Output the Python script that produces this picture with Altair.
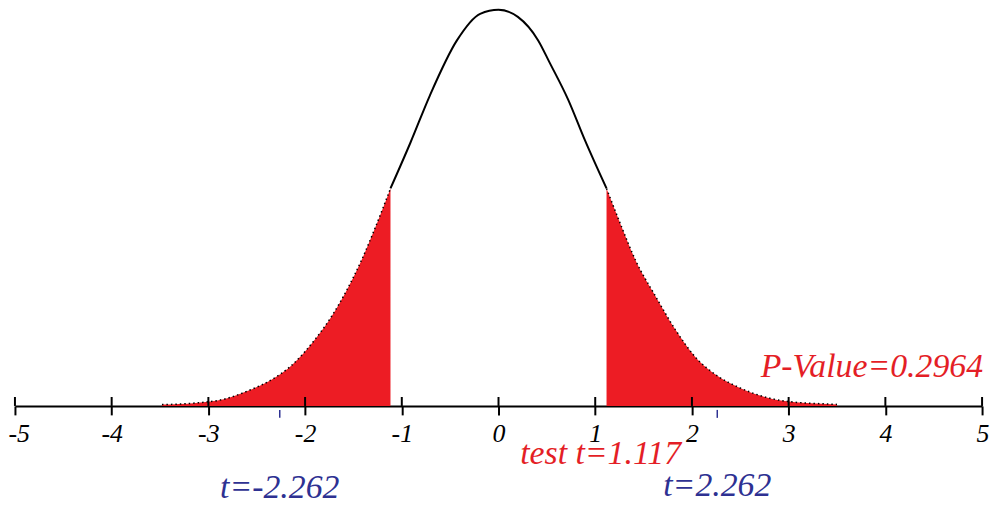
import altair as alt
import pandas as pd

# t-distribution curve, values
t_vals = [-3.48, -3.13, -2.83, -2.59, -2.31, -2.14, -1.90, -1.73, -1.56, -1.42, -1.29,
          -1.117, -0.91, -0.71, -0.43, -0.19, 0.0, 0.20, 0.41, 0.53, 0.72, 0.89, 1.117,
          1.27, 1.42, 1.62, 1.83, 2.03, 2.27, 2.48, 2.72, 2.96, 3.40, 3.5]
density = [0.0013, 0.0029, 0.0068, 0.0148, 0.0278, 0.0397, 0.0648, 0.0871, 0.115, 0.142, 0.171,
           0.213, 0.258, 0.304, 0.358, 0.384, 0.388, 0.381, 0.358, 0.336, 0.300, 0.261, 0.213,
           0.176, 0.142, 0.108, 0.0745, 0.0484, 0.029, 0.0184, 0.0097, 0.0048, 0.0019, 0.0015]

test_t = 1.117
crit_t = 2.262
p_value = 0.2964
tick_values = [-5, -4, -3, -2, -1, 0, 1, 2, 3, 4, 5]

RED = "#ED1C24"
RED_TEXT = "#E41E26"
BLUE = "#2E3192"
FONT = "Liberation Serif"

df = pd.DataFrame({"t": t_vals, "d": density})
left = df[df["t"] <= -test_t]
right = df[df["t"] >= test_t]
center = df[(df["t"] >= -test_t) & (df["t"] <= test_t)]
ticks_df = pd.DataFrame({"t": tick_values})
crit_df = pd.DataFrame({"t": [-crit_t, crit_t]})

xscale = alt.Scale(domain=[-5, 5], nice=False, zero=False)
yscale = alt.Scale(domain=[0, 0.388], nice=False, zero=True)

xaxis = alt.Axis(values=tick_values, labelExpr="'' + datum.value", labelFont=FONT,
                 labelFontStyle="italic", labelFontSize=26, labelColor="black",
                 tickSize=9, tickWidth=2, tickColor="black", domainColor="black",
                 domainWidth=2, labelPadding=27, labelBaseline="alphabetic",
                 grid=False, title=None, labelFlush=True, labelFlushOffset=7,
                 labelOverlap=False)

area_left = alt.Chart(left).mark_area(color=RED, interpolate="monotone", opacity=1).encode(
    x=alt.X("t:Q", scale=xscale, axis=xaxis),
    y=alt.Y("d:Q", scale=yscale, axis=None, stack=None),
)
area_right = alt.Chart(right).mark_area(color=RED, interpolate="monotone", opacity=1).encode(
    x="t:Q", y=alt.Y("d:Q", stack=None))

line_left = alt.Chart(left).mark_line(color="black", strokeWidth=1.5, strokeDash=[1.5, 3],
                                      interpolate="monotone").encode(x="t:Q", y="d:Q")
line_right = alt.Chart(right).mark_line(color="black", strokeWidth=1.5, strokeDash=[1.5, 3],
                                        interpolate="monotone").encode(x="t:Q", y="d:Q")

center_line = alt.Chart(center).mark_line(color="black", strokeWidth=2,
                                          interpolate="monotone").encode(
    x="t:Q", y="d:Q")

up_ticks = alt.Chart(ticks_df).mark_rule(color="black", strokeWidth=2).encode(
    x="t:Q", y=alt.value(390), y2=alt.value(399))

crit_ticks = alt.Chart(crit_df).mark_rule(color=BLUE, strokeWidth=1.5).encode(
    x="t:Q", y=alt.value(403), y2=alt.value(411))

txt_common = dict(font=FONT, fontStyle="italic", fontSize=34, baseline="alphabetic")

t_left = alt.Chart().mark_text(color=BLUE, align="center", **txt_common).encode(
    x=alt.datum(-crit_t), y=alt.value(492), text=alt.value(f"t=-{crit_t}"))
t_right = alt.Chart().mark_text(color=BLUE, align="center", **txt_common).encode(
    x=alt.datum(crit_t), y=alt.value(490), text=alt.value(f"t={crit_t}"))
t_test = alt.Chart().mark_text(color=RED_TEXT, align="center", dx=-6, **txt_common).encode(
    x=alt.datum(test_t), y=alt.value(457), text=alt.value(f"test t={test_t}"))
p_txt = alt.Chart().mark_text(color=RED_TEXT, align="right", dx=1, **txt_common).encode(
    x=alt.datum(5), y=alt.value(370), text=alt.value(f"P-Value={p_value}"))

chart = alt.layer(area_left, area_right, line_left, line_right, center_line, up_ticks,
                  crit_ticks, t_left, t_right, t_test, p_txt).properties(
    width=974, height=399,
    autosize=alt.AutoSizeParams(type="none"),
    padding={"left": 7, "top": 0, "right": 10, "bottom": 100},
    background="white",
).configure_view(stroke=None)

chart.save("out.html", embed_options={"renderer": "svg", "actions": False})
